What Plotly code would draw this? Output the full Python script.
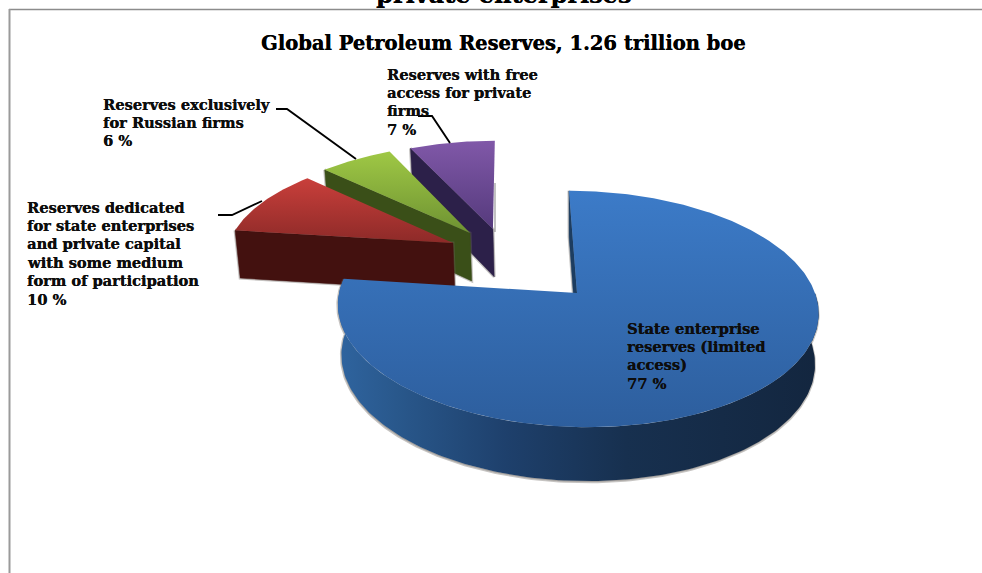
import math
import plotly.graph_objects as go

# Share of global petroleum reserves, percent
categories = [
    "State enterprise<br>reserves (limited<br>access)",
    "Reserves dedicated<br>for state enterprises<br>and private capital<br>with some medium<br>form of participation",
    "Reserves exclusively<br>for Russian firms",
    "Reserves with free<br>access for private<br>firms",
]
values = [77, 10, 6, 7]
chart_title = "Global Petroleum Reserves, 1.26 trillion boe"
clipped_heading = "private enterprises"

# Per-slice styling and placement, in slice order
explode = [(0.0, 0.0), (-0.536, 0.458), (-0.462, 0.556), (-0.359, 0.596)]
face_colors = [("#3c7bc8", "#2d5e9d"), ("#c93f3b", "#8d2a28"), ("#9fc845", "#6e9232"), ("#8058a8", "#553a7c")]
wall_colors = ["#1d3d60", "#43110f", "#3a4f18", "#2c2049"]
label_pos = [(627, 328), (27, 207), (103, 104), (387, 74)]
LINE_STEP = 18.4
leaders = [
    None,
    ((218, 215), (232, 215), (262, 201)),
    ((276, 109), (287, 109), (356, 159)),
    ((418, 116), (432, 116), (450, 143)),
]

FONT = "DejaVu Serif"
THICKEN = "0.35px 0 0 #0d0d0d"
SHADOW = "rgba(105,100,95,0.38)"

# Perspective projection of the pie plane onto the page
OX, OY = 577, 293
A, B, C, K = 238, 116, -9.1, 0.1357


def project(wx, wy):
    s = 1 / (1 + K * wy)
    return OX + (A * wx + C * wy) * s, OY - B * wy * s


def drop(px, wy):
    # Lower rim point: the pie's thickness shrinks slightly with distance
    return px + (OX - px) * 0.015, 50 - 3.8 * wy


def rim(theta_deg, off):
    t = math.radians(theta_deg)
    return off[0] + math.sin(t), off[1] + math.cos(t)


def poly(fig, xs, ys, **kw):
    fig.add_trace(go.Scatter(x=xs, y=ys, mode="lines", fill="toself", hoverinfo="skip",
                             showlegend=False, **kw))


def lower(wx, wy):
    px, py = project(wx, wy)
    nx, d = drop(px, wy)
    return nx, py + d


total = sum(values)
angles = []
acc = 0
for v in values:
    angles.append((acc / total * 360, (acc + v) / total * 360))
    acc += v

fig = go.Figure()

# Far slices go first so nearer ones cover them
for i in [3, 2, 1, 0]:
    a0, a1 = angles[i]
    off = explode[i]

    n = max(12, int((a1 - a0) * 1.5))
    pts = [project(*rim(a0 + (a1 - a0) * k / n, off)) for k in range(n + 1)]
    o = project(*off)
    face_x = [o[0]] + [p[0] for p in pts] + [o[0]]
    face_y = [o[1]] + [p[1] for p in pts] + [o[1]]

    # Cut face along the slice's starting edge
    e = rim(a0, off)
    p_e, p_o = project(*e), project(*off)
    l_e, l_o = lower(*e), lower(*off)
    xs = [p_e[0], p_o[0], l_o[0], l_e[0], p_e[0]]
    ys = [p_e[1], p_o[1], l_o[1], l_e[1], p_e[1]]
    poly(fig, xs, ys, line=dict(color=SHADOW, width=3), fillcolor=SHADOW)
    poly(fig, xs, ys, line=dict(color=wall_colors[i], width=0.5), fillcolor=wall_colors[i])

    # Outer rim of the large slice
    if i == 0:
        steps = [90 + (a1 - 90) * k / 160 for k in range(161)]
        top = [project(*rim(t, off)) for t in steps]
        bot = [lower(*rim(t, off)) for t in steps]
        xs = [p[0] for p in top] + [p[0] for p in reversed(bot)]
        ys = [p[1] for p in top] + [p[1] for p in reversed(bot)]
        poly(fig, [x - 0.3 for x in xs], [y + 1 for y in ys],
             line=dict(color=SHADOW, width=2.5), fillcolor=SHADOW)
        poly(fig, xs, ys, line=dict(width=0),
             fillgradient=dict(type="horizontal", colorscale=[
                 [0, "#2f649f"], [0.12, "#29588c"], [0.35, "#1e406c"], [0.6, "#17304f"], [1, "#13263f"]]))

    # Top face
    c_top, c_bot = face_colors[i]
    poly(fig, face_x, face_y, line=dict(width=0),
         fillgradient=dict(type="vertical", colorscale=[[0, c_bot], [1, c_top]]))

# Leader lines from the outside labels to their slices
for seg in leaders:
    if seg:
        fig.add_trace(go.Scatter(x=[p[0] for p in seg], y=[p[1] for p in seg], mode="lines",
                                 line=dict(color="#000000", width=1.9), hoverinfo="skip", showlegend=False))

# Category labels with their percentages, one text row at a time
annotations = []
for name, v, (lx, ly) in zip(categories, values, label_pos):
    rows = name.split("<br>") + [f"{v} %"]
    for r, row in enumerate(rows):
        annotations.append(dict(x=lx, y=ly + r * LINE_STEP, xref="x", yref="y", xanchor="left", yanchor="middle",
                                align="left", showarrow=False, borderpad=0, borderwidth=0,
                                text=f"<b>{row}</b>",
                                font=dict(family=FONT, size=14.6, color="#0d0d0d", shadow=THICKEN)))
annotations.append(dict(x=503, y=43, xref="x", yref="y", xanchor="center", yanchor="middle", showarrow=False,
                        text=f"<b>{chart_title}</b>",
                        font=dict(family=FONT, size=19.5, color="#000000", shadow="0.35px 0 0 #000000")))
# Heading of the enclosing page, running off the top edge
annotations.append(dict(x=503 / 982, y=1, xref="paper", yref="paper", xanchor="center", yanchor="bottom", yshift=-11,
                        showarrow=False, text=f"<b>{clipped_heading}</b>",
                        font=dict(family=FONT, size=24, color="#000000", shadow="0.35px 0 0 #000000")))

fig.update_layout(
    width=982, height=573, margin=dict(l=0, r=0, t=0, b=0),
    paper_bgcolor="white", plot_bgcolor="white", showlegend=False,
    xaxis=dict(range=[0, 982], visible=False, fixedrange=True),
    yaxis=dict(range=[573, 0], visible=False, fixedrange=True),
    annotations=annotations,
    shapes=[
        dict(type="line", xref="x", yref="y", x0=9, x1=982, y0=9.5, y1=9.5, line=dict(color="#8c8c8c", width=1.6), layer="below"),
        dict(type="line", xref="x", yref="y", x0=9.5, x1=9.5, y0=9, y1=573, line=dict(color="#9a9a9a", width=2), layer="below"),
        # Soft edge beside the purple slice
        dict(type="line", xref="x", yref="y", x0=495, x1=495, y0=183, y1=232, line=dict(color="rgba(120,120,120,0.45)", width=2), layer="below"),
    ],
)

fig.write_html("out.html", config=dict(displayModeBar=False))
